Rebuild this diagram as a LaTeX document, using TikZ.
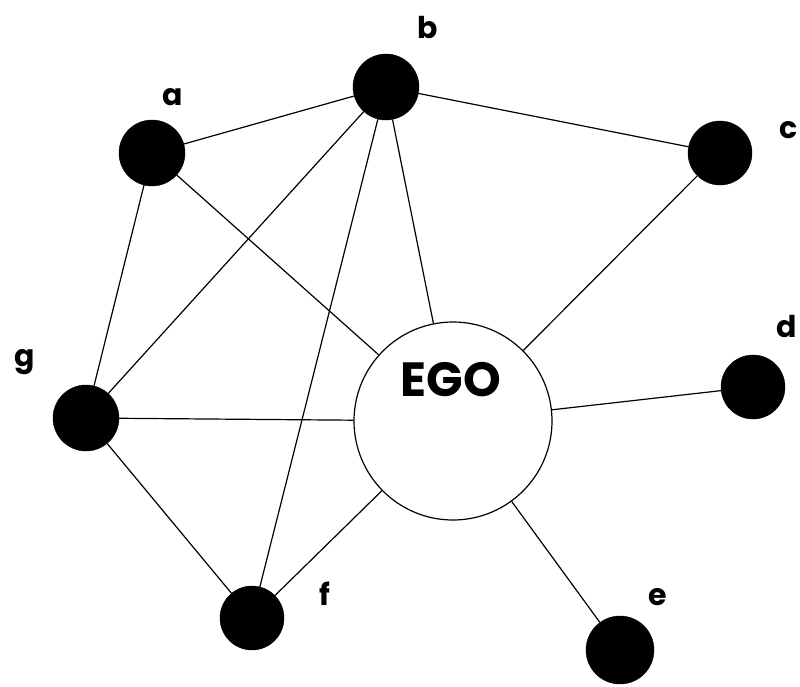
\documentclass[tikz,border=0pt]{standalone}
\usepackage{fontspec}
\setmainfont{Poppins}
\begin{document}
\begin{tikzpicture}[x=1pt,y=-1pt,
  actor/.style={circle,fill=black,draw=black,minimum size=66pt,inner sep=0pt},
  egonode/.style={circle,fill=white,draw=black,line width=1.2pt,minimum size=198pt,inner sep=0pt},
  lbl/.style={font=\bfseries\fontsize{30}{30}\selectfont,inner sep=0pt},
  tie/.style={line width=1.2pt}]
\useasboundingbox (0,0) rectangle (800,686);
\node[egonode] (ego) at (453,421) {};
\node[font=\bfseries\fontsize{48}{48}\selectfont,inner sep=0pt] (egotxt) at (451,380) {EGO};
\node[actor] (a) at (152,153) {};
\node[actor] (b) at (386,87) {};
\node[actor,minimum size=64pt] (c) at (720,153) {};
\node[actor,minimum size=64pt] (d) at (753,387) {};
\node[actor] (g) at (86,418) {};
\node[actor,minimum size=64pt] (f) at (252,618) {};
\node[actor,minimum size=68pt] (e) at (620,650) {};
\node[lbl] (la) at (173,97) {a};
\node[lbl] (lb) at (428,28) {b};
\node[lbl] (lc) at (789,130) {c};
\node[lbl] (ld) at (787,327) {d};
\node[lbl] (lg) at (25,362) {g};
\node[lbl] (lf) at (325,594) {f};
\node[lbl] (le) at (658,597) {e};
\draw[tie] (a) -- (b);
\draw[tie] (b) -- (c);
\draw[tie] (a) -- (ego);
\draw[tie] (b) -- (ego);
\draw[tie] (c) -- (ego);
\draw[tie] (a) -- (g);
\draw[tie] (g) -- (b);
\draw[tie] (b) -- (f);
\draw[tie] (g) -- (ego);
\draw[tie] (g) -- (f);
\draw[tie] (f) -- (ego);
\draw[tie] (ego) -- (d);
\draw[tie] (ego) -- (e);
\end{tikzpicture}
\end{document}
